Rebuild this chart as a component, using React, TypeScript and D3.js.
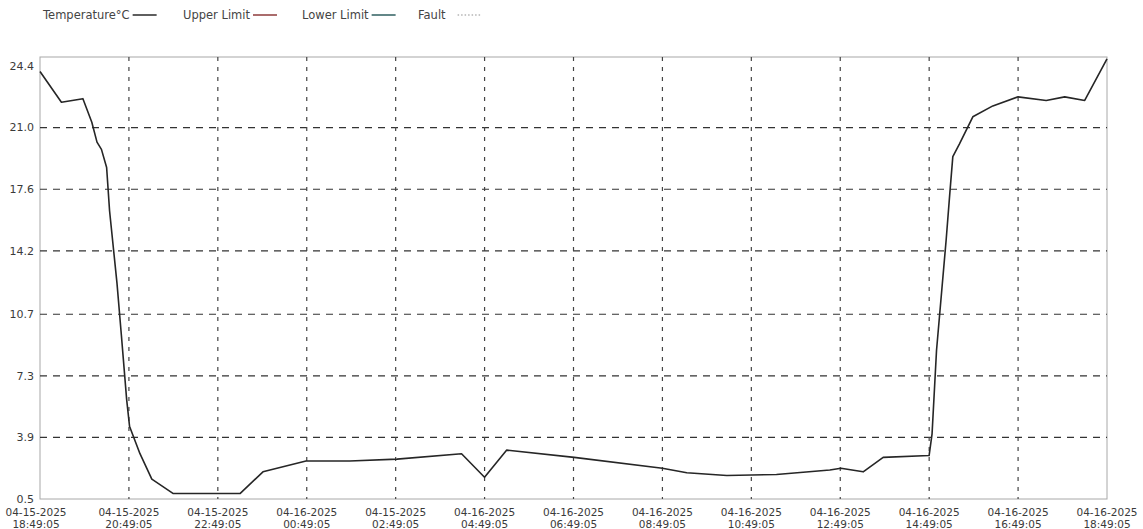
import React, { useEffect, useRef } from "react";
import * as d3 from "d3";

// readings (time, °C)
const readingTimes = [
  "04-15-2025 18:49:05", "04-15-2025 19:18:00", "04-15-2025 19:47:00", "04-15-2025 19:59:00",
  "04-15-2025 20:06:00", "04-15-2025 20:12:00", "04-15-2025 20:19:00", "04-15-2025 20:23:00",
  "04-15-2025 20:33:00", "04-15-2025 20:39:00", "04-15-2025 20:46:00", "04-15-2025 20:50:00",
  "04-15-2025 21:04:00", "04-15-2025 21:20:00", "04-15-2025 21:49:00", "04-15-2025 23:19:00",
  "04-15-2025 23:50:00", "04-16-2025 00:48:00", "04-16-2025 01:47:00", "04-16-2025 02:51:00",
  "04-16-2025 04:18:00", "04-16-2025 04:49:00", "04-16-2025 05:19:00", "04-16-2025 06:50:00",
  "04-16-2025 08:49:00", "04-16-2025 09:22:00", "04-16-2025 10:16:00", "04-16-2025 11:23:00",
  "04-16-2025 12:35:00", "04-16-2025 12:50:00", "04-16-2025 13:20:00", "04-16-2025 13:47:00",
  "04-16-2025 14:49:00", "04-16-2025 14:53:00", "04-16-2025 14:59:00", "04-16-2025 15:12:00",
  "04-16-2025 15:17:00", "04-16-2025 15:21:00", "04-16-2025 15:30:00", "04-16-2025 15:48:00",
  "04-16-2025 16:15:00", "04-16-2025 16:49:00", "04-16-2025 17:27:00", "04-16-2025 17:52:00",
  "04-16-2025 18:19:00", "04-16-2025 18:49:05",
];
const temperatures = [
  24.1, 22.4, 22.6, 21.3,
  20.2, 19.8, 18.8, 16.4,
  12.4, 9.5, 6.0, 4.5,
  3.0, 1.6, 0.8, 0.8,
  2.0, 2.6, 2.6, 2.7,
  3.0, 1.7, 3.2, 2.8,
  2.2, 1.95, 1.8, 1.85,
  2.1, 2.2, 2.0, 2.8,
  2.9, 4.1, 8.7, 14.8,
  17.4, 19.4, 20.1, 21.6,
  22.2, 22.7, 22.5, 22.7,
  22.5, 24.8,
];

const xTickLabels = [
  "04-15-2025 18:49:05", "04-15-2025 20:49:05", "04-15-2025 22:49:05", "04-16-2025 00:49:05",
  "04-15-2025 02:49:05", "04-16-2025 04:49:05", "04-16-2025 06:49:05", "04-16-2025 08:49:05",
  "04-16-2025 10:49:05", "04-16-2025 12:49:05", "04-16-2025 14:49:05", "04-16-2025 16:49:05",
  "04-16-2025 18:49:05",
];
const yTickValues = [0.5, 3.9, 7.3, 10.7, 14.2, 17.6, 21.0, 24.4];

const legendNames = ["Temperature°C", "Upper Limit", "Lower Limit", "Fault"];
const legendColors = ["#2a2a2a", "#8e3b3b", "#2f5f60", "#b5b5b5"];

const parseTime = d3.timeParse("%m-%d-%Y %H:%M:%S");

const App = () => {
  const svgRef = useRef(null);

  useEffect(() => {
    const svg = d3.select(svgRef.current);
    svg.selectAll("*").remove();

    const left = 40, right = 1107, top = 57, bottom = 499;
    const font = "'DejaVu Sans', sans-serif";

    // tick times are every 2h from the first reading (one label has a typo date)
    const start = parseTime(readingTimes[0]);
    const tickTimes = xTickLabels.map((_, i) => d3.timeHour.offset(start, 2 * i));

    const x = d3
      .scaleTime()
      .domain([start, tickTimes[tickTimes.length - 1]])
      .range([left, right]);
    const y = d3.scaleLinear().domain([0.5, 24.9]).range([bottom, top]);

    // border
    svg
      .append("rect")
      .attr("x", left)
      .attr("y", top)
      .attr("width", right - left)
      .attr("height", bottom - top)
      .attr("fill", "none")
      .attr("stroke", "#a8a8a8")
      .attr("stroke-width", 1);

    // horizontal grid
    svg
      .append("g")
      .selectAll("line")
      .data(yTickValues.slice(1, -1))
      .join("line")
      .attr("x1", left)
      .attr("x2", right)
      .attr("y1", (d) => y(d))
      .attr("y2", (d) => y(d))
      .attr("stroke", "#333")
      .attr("stroke-width", 1.2)
      .attr("stroke-dasharray", "7,6");

    // vertical grid
    svg
      .append("g")
      .selectAll("line")
      .data(tickTimes.slice(1, -1))
      .join("line")
      .attr("x1", (d) => x(d))
      .attr("x2", (d) => x(d))
      .attr("y1", top)
      .attr("y2", bottom)
      .attr("stroke", "#444")
      .attr("stroke-width", 1.2)
      .attr("stroke-dasharray", "4,6");

    // y labels
    svg
      .append("g")
      .selectAll("text")
      .data(yTickValues)
      .join("text")
      .attr("x", 34)
      .attr("y", (d) => y(d))
      .attr("dy", "0.35em")
      .attr("text-anchor", "end")
      .attr("font-family", font)
      .attr("font-size", 11)
      .attr("fill", "#3a3a3a")
      .text((d) => d.toFixed(1));

    // x labels, date over time
    const xl = svg
      .append("g")
      .selectAll("text")
      .data(xTickLabels)
      .join("text")
      .attr("text-anchor", "middle")
      .attr("font-family", font)
      .attr("font-size", 10.5)
      .attr("fill", "#3a3a3a");
    xl.append("tspan")
      .attr("x", (_, i) => x(tickTimes[i]) - (i === 0 ? 4 : 0))
      .attr("y", 516)
      .text((d) => d.split(" ")[0]);
    xl.append("tspan")
      .attr("x", (_, i) => x(tickTimes[i]) - (i === 0 ? 4 : 0))
      .attr("y", 527.5)
      .text((d) => d.split(" ")[1]);

    // temperature line
    const line = d3
      .line()
      .x((d) => x(parseTime(d[0])))
      .y((d) => y(d[1]));
    svg
      .append("path")
      .datum(readingTimes.map((t, i) => [t, temperatures[i]]))
      .attr("d", line)
      .attr("fill", "none")
      .attr("stroke", "#262626")
      .attr("stroke-width", 1.6)
      .attr("stroke-linejoin", "round");

    // legend
    const legendX = [43, 183, 302, 418];
    legendNames.forEach((name, i) => {
      const t = svg
        .append("text")
        .attr("x", legendX[i])
        .attr("y", 19)
        .attr("font-family", font)
        .attr("font-size", 11.5)
        .attr("fill", "#444")
        .text(name);
      const w = t.node().getComputedTextLength();
      const gap = i === 3 ? 12 : 3;
      svg
        .append("line")
        .attr("x1", legendX[i] + w + gap)
        .attr("x2", legendX[i] + w + gap + 24)
        .attr("y1", 15)
        .attr("y2", 15)
        .attr("stroke", legendColors[i])
        .attr("stroke-width", 1.5)
        .attr("stroke-dasharray", i === 3 ? "1.5,2" : null);
    });
  }, []);

  return (
    <svg
      ref={svgRef}
      width={1143}
      height={529}
      style={{ position: "absolute", left: 0, top: 0, background: "#fff" }}
    />
  );
};

export default App;
